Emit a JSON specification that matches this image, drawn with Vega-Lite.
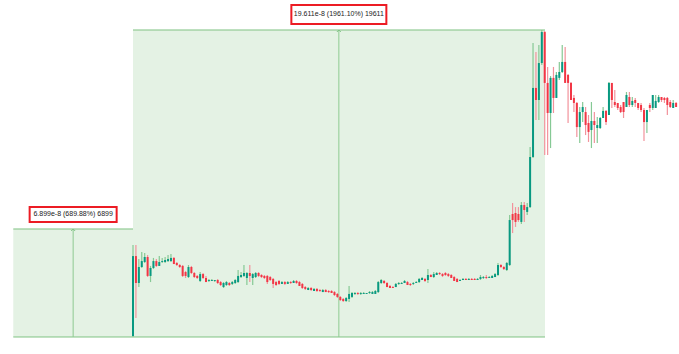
{
"$schema": "https://vega.github.io/schema/vega-lite/v6.json",
"width": 679, "height": 354, "padding": 0, "autosize": {"type": "none"},
"background": "white",
"config": {"view": {"stroke": null}},
"datasets": {
"candles": [
{"t":0,"o":1.06,"h":6.88,"l":1.00,"c":6.17},
{"t":1,"o":6.17,"h":6.88,"l":2.21,"c":4.45},
{"t":2,"o":4.45,"h":5.98,"l":4.19,"c":5.47},
{"t":3,"o":5.47,"h":6.43,"l":5.41,"c":5.85},
{"t":4,"o":5.79,"h":6.37,"l":5.73,"c":6.11},
{"t":5,"o":6.11,"h":6.24,"l":4.83,"c":4.90},
{"t":6,"o":4.90,"h":5.54,"l":4.51,"c":5.41},
{"t":7,"o":5.41,"h":6.05,"l":5.34,"c":5.85},
{"t":8,"o":5.85,"h":5.98,"l":5.47,"c":5.54},
{"t":9,"o":5.54,"h":6.17,"l":5.54,"c":5.79},
{"t":10,"o":5.79,"h":6.05,"l":5.73,"c":5.85},
{"t":11,"o":5.79,"h":6.11,"l":5.73,"c":5.92},
{"t":12,"o":5.85,"h":6.24,"l":5.79,"c":5.98},
{"t":13,"o":5.85,"h":6.30,"l":5.79,"c":6.05},
{"t":14,"o":6.05,"h":6.11,"l":5.66,"c":5.66},
{"t":15,"o":5.73,"h":5.79,"l":5.54,"c":5.60},
{"t":16,"o":5.60,"h":5.66,"l":5.41,"c":5.47},
{"t":17,"o":5.54,"h":5.60,"l":4.83,"c":4.90},
{"t":18,"o":5.15,"h":5.22,"l":4.77,"c":4.90},
{"t":19,"o":4.83,"h":5.60,"l":4.77,"c":5.47},
{"t":20,"o":5.47,"h":5.54,"l":5.02,"c":5.09},
{"t":21,"o":5.09,"h":5.15,"l":4.77,"c":4.83},
{"t":22,"o":4.90,"h":4.96,"l":4.71,"c":4.77},
{"t":23,"o":4.58,"h":5.15,"l":4.51,"c":5.02},
{"t":24,"o":5.02,"h":5.09,"l":4.71,"c":4.77},
{"t":25,"o":4.77,"h":4.90,"l":4.51,"c":4.51},
{"t":26,"o":4.58,"h":4.71,"l":4.51,"c":4.64},
{"t":27,"o":4.58,"h":4.71,"l":4.58,"c":4.64},
{"t":28,"o":4.58,"h":4.64,"l":4.51,"c":4.64},
{"t":29,"o":4.64,"h":4.71,"l":4.39,"c":4.45},
{"t":30,"o":4.51,"h":4.58,"l":4.26,"c":4.32},
{"t":31,"o":4.19,"h":4.51,"l":4.13,"c":4.45},
{"t":32,"o":4.32,"h":4.58,"l":4.26,"c":4.51},
{"t":33,"o":4.45,"h":4.51,"l":4.26,"c":4.32},
{"t":34,"o":4.39,"h":4.58,"l":4.32,"c":4.51},
{"t":35,"o":4.45,"h":4.71,"l":4.39,"c":4.64},
{"t":36,"o":4.51,"h":5.28,"l":4.45,"c":4.90},
{"t":37,"o":4.83,"h":5.15,"l":4.77,"c":4.96},
{"t":38,"o":4.90,"h":5.60,"l":4.83,"c":5.09},
{"t":39,"o":4.77,"h":5.15,"l":4.32,"c":5.09},
{"t":40,"o":5.09,"h":5.60,"l":4.51,"c":4.90},
{"t":41,"o":4.77,"h":5.09,"l":4.32,"c":5.02},
{"t":42,"o":4.83,"h":5.15,"l":4.77,"c":5.09},
{"t":43,"o":5.09,"h":5.15,"l":4.83,"c":4.90},
{"t":44,"o":4.96,"h":5.02,"l":4.77,"c":4.83},
{"t":45,"o":4.90,"h":4.96,"l":4.71,"c":4.77},
{"t":46,"o":4.90,"h":4.96,"l":4.39,"c":4.51},
{"t":47,"o":4.83,"h":4.90,"l":4.58,"c":4.64},
{"t":48,"o":4.71,"h":4.77,"l":4.13,"c":4.39},
{"t":49,"o":4.51,"h":4.58,"l":4.26,"c":4.32},
{"t":50,"o":4.58,"h":4.64,"l":4.32,"c":4.39},
{"t":51,"o":4.39,"h":4.58,"l":4.39,"c":4.51},
{"t":52,"o":4.51,"h":4.58,"l":4.32,"c":4.39},
{"t":53,"o":4.39,"h":4.58,"l":4.39,"c":4.51},
{"t":54,"o":4.51,"h":4.58,"l":4.39,"c":4.45},
{"t":55,"o":4.45,"h":4.64,"l":4.45,"c":4.58},
{"t":56,"o":4.58,"h":4.64,"l":4.39,"c":4.45},
{"t":57,"o":4.51,"h":4.58,"l":4.26,"c":4.26},
{"t":58,"o":4.39,"h":4.45,"l":4.07,"c":4.13},
{"t":59,"o":4.19,"h":4.26,"l":4.00,"c":4.07},
{"t":60,"o":4.00,"h":4.19,"l":4.00,"c":4.13},
{"t":61,"o":4.13,"h":4.19,"l":3.94,"c":4.00},
{"t":62,"o":3.94,"h":4.13,"l":3.94,"c":4.07},
{"t":63,"o":4.07,"h":4.13,"l":3.87,"c":3.94},
{"t":64,"o":4.00,"h":4.07,"l":3.87,"c":3.94},
{"t":65,"o":3.87,"h":4.07,"l":3.87,"c":4.00},
{"t":66,"o":4.00,"h":4.07,"l":3.87,"c":3.87},
{"t":67,"o":3.94,"h":4.00,"l":3.81,"c":3.87},
{"t":68,"o":3.94,"h":4.00,"l":3.81,"c":3.81},
{"t":69,"o":3.87,"h":3.94,"l":3.62,"c":3.68},
{"t":70,"o":3.75,"h":3.81,"l":3.49,"c":3.56},
{"t":71,"o":3.56,"h":3.62,"l":3.30,"c":3.36},
{"t":72,"o":3.43,"h":3.49,"l":3.24,"c":3.30},
{"t":73,"o":3.30,"h":3.56,"l":3.24,"c":3.49},
{"t":74,"o":3.43,"h":4.26,"l":3.24,"c":3.75},
{"t":75,"o":3.56,"h":3.87,"l":3.49,"c":3.81},
{"t":76,"o":3.75,"h":3.87,"l":3.68,"c":3.81},
{"t":77,"o":3.81,"h":3.87,"l":3.68,"c":3.75},
{"t":78,"o":3.75,"h":3.87,"l":3.68,"c":3.81},
{"t":79,"o":3.75,"h":3.87,"l":3.75,"c":3.81},
{"t":80,"o":3.75,"h":3.81,"l":3.75,"c":3.81},
{"t":81,"o":3.81,"h":3.94,"l":3.75,"c":3.87},
{"t":82,"o":3.75,"h":3.94,"l":3.75,"c":3.87},
{"t":83,"o":3.75,"h":4.00,"l":3.75,"c":3.94},
{"t":84,"o":3.87,"h":4.58,"l":3.81,"c":4.51},
{"t":85,"o":4.45,"h":4.71,"l":4.39,"c":4.64},
{"t":86,"o":4.58,"h":4.64,"l":4.39,"c":4.45},
{"t":87,"o":4.45,"h":4.51,"l":4.19,"c":4.19},
{"t":88,"o":4.26,"h":4.32,"l":4.13,"c":4.13},
{"t":89,"o":4.19,"h":4.26,"l":4.13,"c":4.13},
{"t":90,"o":4.19,"h":4.45,"l":4.19,"c":4.39},
{"t":91,"o":4.39,"h":4.51,"l":4.32,"c":4.45},
{"t":92,"o":4.39,"h":4.51,"l":4.39,"c":4.45},
{"t":93,"o":4.45,"h":4.64,"l":4.45,"c":4.58},
{"t":94,"o":4.51,"h":4.58,"l":4.32,"c":4.32},
{"t":95,"o":4.39,"h":4.45,"l":4.26,"c":4.32},
{"t":96,"o":4.39,"h":4.51,"l":4.32,"c":4.45},
{"t":97,"o":4.45,"h":4.58,"l":4.45,"c":4.51},
{"t":98,"o":4.51,"h":4.77,"l":4.45,"c":4.71},
{"t":99,"o":4.64,"h":4.83,"l":4.64,"c":4.77},
{"t":100,"o":4.71,"h":4.77,"l":4.51,"c":4.58},
{"t":101,"o":4.64,"h":5.34,"l":4.45,"c":4.96},
{"t":102,"o":4.96,"h":5.02,"l":4.83,"c":4.83},
{"t":103,"o":4.83,"h":5.15,"l":4.77,"c":5.02},
{"t":104,"o":4.96,"h":5.15,"l":4.96,"c":5.09},
{"t":105,"o":5.09,"h":5.15,"l":4.96,"c":5.02},
{"t":106,"o":5.02,"h":5.09,"l":4.83,"c":4.90},
{"t":107,"o":5.09,"h":5.15,"l":4.90,"c":4.96},
{"t":108,"o":5.02,"h":5.09,"l":4.83,"c":4.90},
{"t":109,"o":4.96,"h":5.02,"l":4.77,"c":4.77},
{"t":110,"o":4.83,"h":4.90,"l":4.58,"c":4.58},
{"t":111,"o":4.71,"h":4.77,"l":4.51,"c":4.51},
{"t":112,"o":4.58,"h":4.71,"l":4.58,"c":4.64},
{"t":113,"o":4.64,"h":4.77,"l":4.64,"c":4.71},
{"t":114,"o":4.71,"h":4.77,"l":4.64,"c":4.64},
{"t":115,"o":4.64,"h":4.77,"l":4.64,"c":4.71},
{"t":116,"o":4.71,"h":4.77,"l":4.64,"c":4.64},
{"t":117,"o":4.71,"h":4.77,"l":4.64,"c":4.64},
{"t":118,"o":4.64,"h":4.77,"l":4.64,"c":4.71},
{"t":119,"o":4.71,"h":4.96,"l":4.64,"c":4.83},
{"t":120,"o":4.77,"h":4.90,"l":4.71,"c":4.83},
{"t":121,"o":4.83,"h":4.96,"l":4.71,"c":4.77},
{"t":122,"o":4.77,"h":4.90,"l":4.77,"c":4.83},
{"t":123,"o":4.77,"h":4.96,"l":4.77,"c":4.90},
{"t":124,"o":4.83,"h":5.09,"l":4.83,"c":5.02},
{"t":125,"o":4.96,"h":5.73,"l":4.90,"c":5.60},
{"t":126,"o":5.60,"h":5.66,"l":5.41,"c":5.47},
{"t":127,"o":5.47,"h":5.54,"l":5.28,"c":5.34},
{"t":128,"o":5.28,"h":5.79,"l":5.22,"c":5.73},
{"t":129,"o":5.60,"h":8.79,"l":5.54,"c":8.47},
{"t":130,"o":8.86,"h":9.56,"l":7.64,"c":8.47},
{"t":131,"o":8.92,"h":9.30,"l":8.03,"c":8.35},
{"t":132,"o":8.86,"h":9.30,"l":8.35,"c":8.47},
{"t":133,"o":8.35,"h":9.62,"l":8.22,"c":9.43},
{"t":134,"o":9.43,"h":9.62,"l":8.35,"c":9.11},
{"t":135,"o":8.99,"h":9.56,"l":8.79,"c":9.30},
{"t":136,"o":9.30,"h":13.14,"l":9.24,"c":12.50},
{"t":137,"o":12.50,"h":19.78,"l":12.43,"c":16.91},
{"t":138,"o":16.91,"h":19.21,"l":14.86,"c":16.14},
{"t":139,"o":16.14,"h":19.65,"l":14.86,"c":18.50},
{"t":140,"o":18.50,"h":20.611,"l":18.38,"c":20.48},
{"t":141,"o":20.48,"h":20.55,"l":12.63,"c":17.23},
{"t":142,"o":17.23,"h":18.25,"l":12.63,"c":15.31},
{"t":143,"o":15.31,"h":17.67,"l":13.07,"c":17.55},
{"t":144,"o":17.55,"h":18.25,"l":15.31,"c":16.27},
{"t":145,"o":16.27,"h":17.93,"l":16.27,"c":17.74},
{"t":146,"o":17.55,"h":18.57,"l":17.42,"c":17.93},
{"t":147,"o":17.93,"h":19.65,"l":17.86,"c":18.57},
{"t":148,"o":18.57,"h":19.53,"l":17.23,"c":17.23},
{"t":149,"o":17.74,"h":17.80,"l":14.67,"c":17.23},
{"t":150,"o":17.23,"h":17.29,"l":16.14,"c":16.14},
{"t":151,"o":16.27,"h":16.46,"l":15.37,"c":15.95},
{"t":152,"o":15.95,"h":16.01,"l":13.78,"c":14.41},
{"t":153,"o":14.41,"h":15.69,"l":13.39,"c":15.37},
{"t":154,"o":15.37,"h":16.01,"l":14.73,"c":15.69},
{"t":155,"o":15.37,"h":15.69,"l":13.90,"c":14.54},
{"t":156,"o":14.67,"h":15.18,"l":13.46,"c":14.10},
{"t":157,"o":14.22,"h":16.01,"l":13.07,"c":14.80},
{"t":158,"o":14.80,"h":15.37,"l":13.39,"c":14.54},
{"t":159,"o":14.35,"h":15.05,"l":13.39,"c":14.54},
{"t":160,"o":14.35,"h":15.05,"l":14.29,"c":14.99},
{"t":161,"o":14.99,"h":15.69,"l":14.99,"c":15.44},
{"t":162,"o":15.44,"h":15.50,"l":14.54,"c":14.73},
{"t":163,"o":15.18,"h":17.29,"l":15.18,"c":17.23},
{"t":164,"o":17.23,"h":17.23,"l":15.63,"c":16.14},
{"t":165,"o":16.01,"h":16.78,"l":15.69,"c":15.82},
{"t":166,"o":15.95,"h":15.95,"l":15.50,"c":15.63},
{"t":167,"o":15.69,"h":15.82,"l":15.31,"c":15.37},
{"t":168,"o":16.01,"h":16.01,"l":14.99,"c":15.37},
{"t":169,"o":15.69,"h":16.65,"l":15.69,"c":16.46},
{"t":170,"o":16.33,"h":16.65,"l":15.69,"c":15.82},
{"t":171,"o":15.82,"h":16.33,"l":15.69,"c":16.08},
{"t":172,"o":16.14,"h":16.27,"l":15.69,"c":15.95},
{"t":173,"o":15.95,"h":15.95,"l":15.50,"c":15.63},
{"t":174,"o":15.82,"h":15.95,"l":15.37,"c":15.50},
{"t":175,"o":15.50,"h":15.63,"l":13.52,"c":14.73},
{"t":176,"o":14.73,"h":15.50,"l":14.03,"c":15.50},
{"t":177,"o":15.82,"h":15.95,"l":15.37,"c":15.63},
{"t":178,"o":15.63,"h":16.46,"l":15.50,"c":16.46},
{"t":179,"o":15.63,"h":16.46,"l":15.63,"c":16.08},
{"t":180,"o":16.01,"h":16.46,"l":15.95,"c":16.33},
{"t":181,"o":16.33,"h":16.33,"l":16.01,"c":16.14},
{"t":182,"o":16.27,"h":16.33,"l":15.95,"c":16.14},
{"t":183,"o":16.27,"h":16.33,"l":15.18,"c":15.82},
{"t":184,"o":16.01,"h":16.14,"l":15.63,"c":15.69},
{"t":185,"o":15.63,"h":16.14,"l":15.63,"c":15.95},
{"t":186,"o":15.95,"h":16.01,"l":15.69,"c":15.69}
],
"ranges": [
{"id":"a","start":-41,"end":0,"mid":-20.5,"lo":1.0,"hi":7.899,"label":"6.899e-8 (689.88%) 6899"},
{"id":"b","start":0,"end":141.1,"mid":70.5,"lo":1.0,"hi":20.611,"label":"19.611e-8 (1961.10%) 19611"}
]
},
"layer": [
{"data":{"name":"ranges"},"mark":{"type":"rect","fill":"#e4f2e4","stroke":null},
 "encoding":{"x":{"field":"start","type":"quantitative","axis":null,"scale":{"domain":[-45.55,186.99],"nice":false,"zero":false,"padding":0}},
  "x2":{"field":"end"},
  "y":{"field":"lo","type":"quantitative","axis":null,"scale":{"domain":[-0.086,22.527],"nice":false,"zero":false,"padding":0}},
  "y2":{"field":"hi"}}},
{"data":{"name":"ranges"},"mark":{"type":"rule","color":"#7fc283","strokeWidth":1},
 "encoding":{"x":{"field":"start","type":"quantitative"},"x2":{"field":"end"},"y":{"field":"hi","type":"quantitative"}}},
{"data":{"name":"ranges"},"mark":{"type":"rule","color":"#7fc283","strokeWidth":1},
 "encoding":{"x":{"field":"start","type":"quantitative"},"x2":{"field":"end"},"y":{"field":"lo","type":"quantitative"}}},
{"data":{"name":"ranges"},"mark":{"type":"rule","color":"#8fcb92","strokeWidth":1},
 "encoding":{"x":{"field":"mid","type":"quantitative"},"y":{"field":"lo","type":"quantitative"},"y2":{"field":"hi"}}},
{"data":{"name":"candles"},"mark":{"type":"rule","strokeWidth":1.2},
 "encoding":{"x":{"field":"t","type":"quantitative"},"y":{"field":"l","type":"quantitative"},"y2":{"field":"h"},
  "color":{"condition":{"test":"datum.c >= datum.o","value":"#86c995"},"value":"#f2929b"}}},
{"data":{"name":"candles"},"mark":{"type":"bar","width":2},
 "encoding":{"x":{"field":"t","type":"quantitative"},"y":{"field":"o","type":"quantitative"},"y2":{"field":"c"},
  "color":{"condition":{"test":"datum.c >= datum.o","value":"#089981"},"value":"#f23645"}}},
{"data":{"name":"ranges"},"mark":{"type":"point","shape":"M-1,1L0,0L1,1","filled":false,"size":16,"color":"#7fc283","strokeWidth":1,"opacity":1},
 "encoding":{"x":{"field":"mid","type":"quantitative"},"y":{"field":"hi","type":"quantitative"}}},
{"data":{"name":"ranges"},"transform":[{"filter":"datum.id == 'a'"}],
 "mark":{"type":"point","shape":"M-1,-0.172H1V0.172H-1Z","size":7569,"filled":true,"fill":"white","stroke":"#ec1c24","strokeWidth":2,"opacity":1,"yOffset":-14.5},
 "encoding":{"x":{"field":"mid","type":"quantitative"},"y":{"field":"hi","type":"quantitative"}}},
{"data":{"name":"ranges"},"transform":[{"filter":"datum.id == 'b'"}],
 "mark":{"type":"point","shape":"M-1,-0.2H1V0.2H-1Z","size":9025,"filled":true,"fill":"white","stroke":"#ec1c24","strokeWidth":2,"opacity":1,"yOffset":-15.5},
 "encoding":{"x":{"field":"mid","type":"quantitative"},"y":{"field":"hi","type":"quantitative"}}},
{"data":{"name":"ranges"},"transform":[{"filter":"datum.id == 'a'"}],
 "mark":{"type":"text","font":"Liberation Sans","fontSize":7,"color":"#222222","align":"center","baseline":"middle","yOffset":-14.5},
 "encoding":{"x":{"field":"mid","type":"quantitative"},"y":{"field":"hi","type":"quantitative"},"text":{"field":"label"}}},
{"data":{"name":"ranges"},"transform":[{"filter":"datum.id == 'b'"}],
 "mark":{"type":"text","font":"Liberation Sans","fontSize":7,"color":"#222222","align":"center","baseline":"middle","yOffset":-15.5},
 "encoding":{"x":{"field":"mid","type":"quantitative"},"y":{"field":"hi","type":"quantitative"},"text":{"field":"label"}}}
]
}
